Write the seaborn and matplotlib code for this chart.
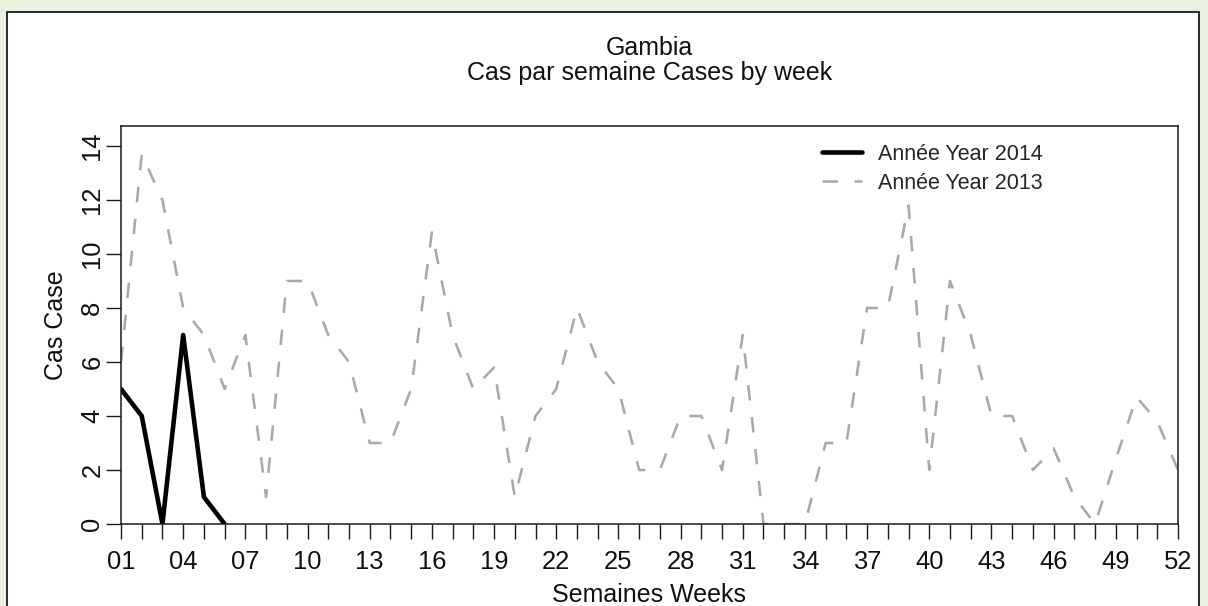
import matplotlib
matplotlib.use("Agg")
import matplotlib.pyplot as plt
import seaborn as sns
import pandas as pd
from matplotlib.patches import Rectangle
from matplotlib.lines import Line2D

# ---- data ----
weeks_2013 = list(range(1, 53))
cases_2013 = [6, 13.7, 12, 8, 7, 5, 7, 1, 9, 9,
              7, 6, 3, 3, 5, 10.8, 7, 5, 5.8, 1,
              4, 5, 8, 6, 5, 2, 2, 4, 4, 2,
              7, 0, 0, 0, 3, 3, 8, 8, 11.8, 2,
              9, 7, 4, 4, 2, 2.8, 1, 0, 2.4, 4.7,
              3.8, 2]
weeks_2014 = [1, 2, 3, 4, 5, 6]
cases_2014 = [5, 4, 0, 7, 1, 0]

tick_weeks = list(range(1, 53))
label_weeks = list(range(1, 53, 3))
tick_labels = [f"{w:02d}" if w in label_weeks else "" for w in tick_weeks]
y_ticks = [0, 2, 4, 6, 8, 10, 12, 14]

title_country = "Gambia"
title_sub = "Cas par semaine Cases by week"
x_label = "Semaines Weeks"
y_label = "Cas Case"
legend_2014 = "Année Year 2014"
legend_2013 = "Année Year 2013"

# ---- style ----
sns.set_style("white")
plt.rcParams['font.family'] = ['Liberation Sans', 'DejaVu Sans']

W, H = 1208, 606
fig = plt.figure(figsize=(W / 100, H / 100), dpi=100, facecolor="#E9F0DD")
fig.patches.append(Rectangle((7 / W, -0.05), 1192 / W, 1.05 - 12 / H,
                             transform=fig.transFigure, facecolor="white",
                             edgecolor="#1a1a1a", lw=1.3, zorder=-5))

ax = fig.add_axes([121 / W, 82 / H, 1057 / W, 398 / H])
ax.set_facecolor("white")

df13 = pd.DataFrame({"week": weeks_2013, "cases": cases_2013})
df14 = pd.DataFrame({"week": weeks_2014, "cases": cases_2014})

gray = "#A9A9A9"
dash13 = (0, (6.0, 6.5))
sns.lineplot(data=df13, x="week", y="cases", color=gray, lw=1.85,
             linestyle=dash13, ax=ax)
sns.lineplot(data=df14, x="week", y="cases", color="black", lw=3.3, ax=ax)

ax.set_xlim(1, 52)
ax.set_ylim(0, 14.74)
ax.set_xticks(tick_weeks)
ax.set_xticklabels(tick_labels)
ax.set_yticks(y_ticks)
ax.set_yticklabels([str(v) for v in y_ticks], rotation=90, va="center")
ax.tick_params(axis="both", direction="out", length=10.5, width=1,
               color="#1a1a1a", labelsize=18.4, bottom=True, left=True,
               labelcolor="#111111")
ax.tick_params(axis="x", pad=8.5)
ax.tick_params(axis="y", pad=1.5)
for s in ax.spines.values():
    s.set_visible(True)
    s.set_color("#1a1a1a")
    s.set_linewidth(1.1)

ax.set_xlabel(x_label, fontsize=18, color="#111111")
ax.xaxis.label.set_va("baseline")
ax.xaxis.set_label_coords(0.5, (524 - 602) / 398)
ax.set_ylabel(y_label, fontsize=18, color="#111111")
ax.yaxis.label.set_va("baseline")
ax.yaxis.set_label_coords((63 - 121) / 1057, 0.5)

cx = 649.5 / W
fig.text(cx, 1 - 55 / H, title_country, ha="center", va="baseline",
         fontsize=18, color="#111111")
fig.text(cx, 1 - 80 / H, title_sub, ha="center", va="baseline",
         fontsize=18, color="#111111")

handles = [Line2D([], [], color="black", lw=3.3),
           Line2D([], [], color=gray, lw=1.85, linestyle=dash13)]
ax.legend(handles, [legend_2014, legend_2013], loc="upper left",
          bbox_to_anchor=(822 / W, 1 - 144 / H), bbox_transform=fig.transFigure,
          frameon=False, fontsize=15.5, handlelength=1.86, handletextpad=0.74,
          borderpad=0, borderaxespad=0, labelspacing=0.35)

fig.savefig("out.png", dpi=100, facecolor=fig.get_facecolor())
